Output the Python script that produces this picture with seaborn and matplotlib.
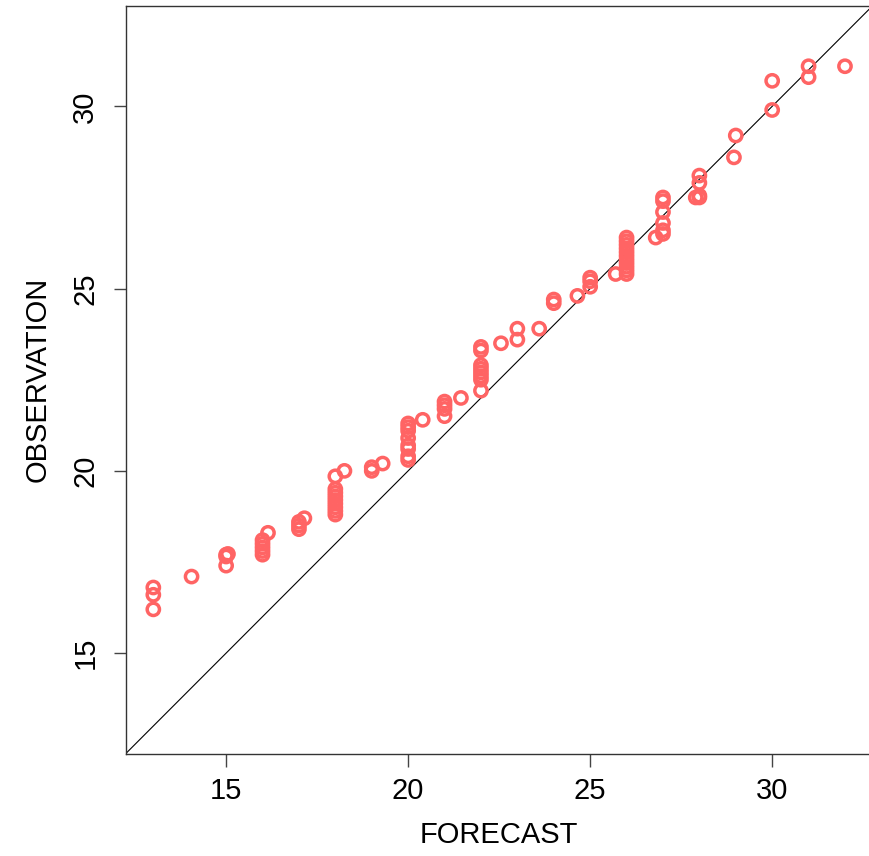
import matplotlib
matplotlib.use("Agg")
import matplotlib.pyplot as plt
import seaborn as sns
import pandas as pd

forecast = [13, 13, 13, 14.05, 15, 15, 15, 15.05,
            16, 16, 16, 16, 16, 16.15,
            17, 17, 17, 17.15,
            18, 18, 18, 18, 18, 18, 18, 18, 18, 18.25,
            19, 19, 19.3,
            20, 20, 20, 20, 20, 20, 20, 20, 20.4,
            21, 21, 21, 21, 21.45,
            22, 22, 22, 22, 22, 22, 22, 22, 22.55,
            23, 23, 23.6,
            24, 24, 24.65,
            25, 25, 25, 25.7,
            26, 26, 26, 26, 26, 26, 26, 26, 26, 26, 26, 26.8,
            27, 27, 27, 27, 27, 27,
            28, 28, 28, 28, 27.9,
            29, 28.95,
            30, 30,
            31, 31,
            32]
observation = [16.8, 16.6, 16.2, 17.1, 17.7, 17.65, 17.4, 17.72,
               18.1, 18.0, 17.9, 17.8, 17.7, 18.3,
               18.6, 18.5, 18.4, 18.7,
               19.85, 19.5, 19.4, 19.3, 19.2, 19.1, 19.0, 18.9, 18.8, 20.0,
               20.1, 20.0, 20.2,
               21.3, 21.2, 21.1, 20.9, 20.7, 20.6, 20.4, 20.3, 21.4,
               21.9, 21.8, 21.7, 21.5, 22.0,
               23.4, 23.3, 22.9, 22.8, 22.7, 22.6, 22.5, 22.2, 23.5,
               23.9, 23.6, 23.9,
               24.7, 24.6, 24.8,
               25.3, 25.2, 25.05, 25.4,
               26.4, 26.3, 26.2, 26.1, 26.0, 25.9, 25.8, 25.7, 25.6, 25.5, 25.4, 26.4,
               27.5, 27.4, 27.1, 26.8, 26.6, 26.5,
               28.1, 27.9, 27.55, 27.5, 27.5,
               29.2, 28.6,
               30.7, 29.9,
               31.1, 30.8,
               31.1]

ticks = [15, 20, 25, 30]
tick_labels = ["15", "20", "25", "30"]

df = pd.DataFrame({"FORECAST": forecast, "OBSERVATION": observation})

sns.set_style("white")
plt.rcParams["font.family"] = ["Liberation Sans", "DejaVu Sans"]

fig = plt.figure(figsize=(8.69, 8.56), dpi=100)
ax = fig.add_axes([0.1446, 0.1195, 0.8596, 0.8738])

lo = min(min(forecast), min(observation))
hi = max(max(forecast), max(observation))
pad = (hi - lo) * 0.04
lim = (lo - pad, hi + pad)

ax.plot(lim, lim, color="black", linewidth=0.8, zorder=1)
sns.scatterplot(data=df, x="FORECAST", y="OBSERVATION", ax=ax,
                marker="o", s=78, facecolor="none", edgecolor="#FF6464",
                linewidth=2.5, zorder=2)

ax.set_xlim(lim)
ax.set_ylim(lim)
ax.set_xticks(ticks)
ax.set_xticklabels(tick_labels)
ax.set_yticks(ticks)
ax.set_yticklabels(tick_labels, rotation=90, va="center")

for s in ax.spines.values():
    s.set_color("#333333")
    s.set_linewidth(1.0)

ax.tick_params(axis="both", direction="out", length=9, width=1.0,
               color="#444444", labelsize=21, labelcolor="black",
               bottom=True, left=True)
ax.tick_params(axis="x", pad=8)
ax.tick_params(axis="y", pad=10)
ax.set_xlabel("FORECAST", fontsize=21, labelpad=11, color="black")
ax.set_ylabel("OBSERVATION", fontsize=21, labelpad=14, color="black")

fig.savefig("out.png", dpi=100)
